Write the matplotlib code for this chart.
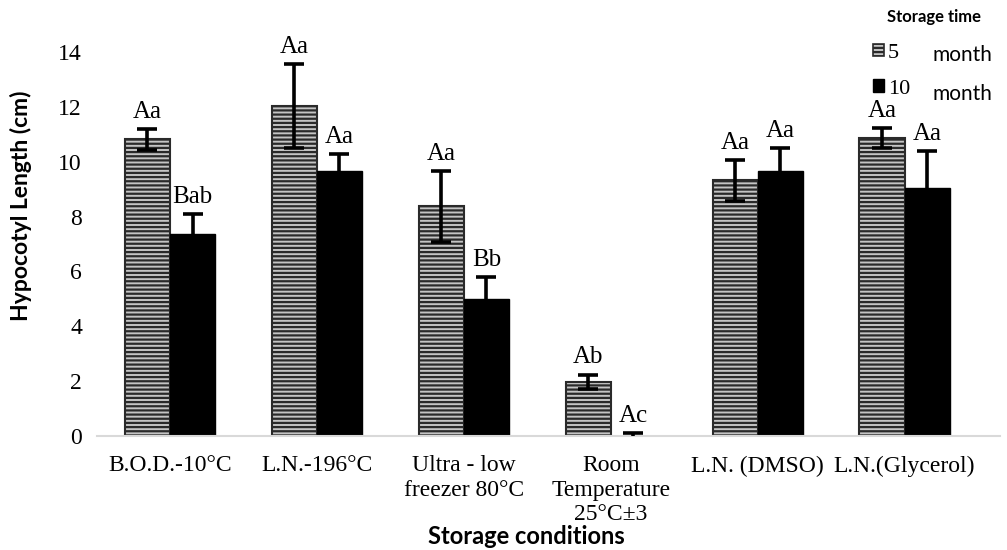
"""Hypocotyl length by storage condition and storage time."""

import matplotlib
matplotlib.use("Agg")
import matplotlib.pyplot as plt
import numpy as np
from matplotlib.patches import Patch

conditions = [
    "B.O.D.-10°C",
    "L.N.-196°C",
    "Ultra - low\nfreezer 80°C",
    "Room\nTemperature\n25°C±3",
    "L.N. (DMSO)",
    "L.N.(Glycerol)",
]
month5 = [10.82, 12.02, 8.37, 1.97, 9.32, 10.87]
month5_err = [0.38, 1.53, 1.29, 0.27, 0.74, 0.37]
month10 = [7.35, 9.65, 4.98, 0.0, 9.65, 9.05]
month10_err = [0.73, 0.62, 0.83, 0.1, 0.85, 1.35]
letters5 = ["Aa", "Aa", "Aa", "Ab", "Aa", "Aa"]
letters10 = ["Bab", "Aa", "Bb", "Ac", "Aa", "Aa"]
yticks = [0, 2, 4, 6, 8, 10, 12, 14]

SERIF = "Liberation Serif"
SANS = "Lato"

plt.rcParams["hatch.linewidth"] = 1.6

fig = plt.figure(figsize=(10.07, 5.5), dpi=100)
ax = fig.add_axes([96.6 / 1007, 114 / 550, (1000 - 96.6) / 1007, 436 / 550])

x = np.arange(len(conditions))
w = 0.307

# 5 month - striped, 10 month - solid black
ax.bar(x - w / 2, month5, w, color="#c4c4c4", edgecolor="#2a2a2a",
       hatch="----", linewidth=1.5, zorder=2)
ax.bar(x + w / 2, month10, w, color="black", edgecolor="black",
       linewidth=1.0, zorder=2)

err_kw = dict(fmt="none", ecolor="black", elinewidth=2.6, capsize=7,
              capthick=2.6, zorder=3)
ax.errorbar(x - w / 2, month5, yerr=month5_err, **err_kw)
ax.errorbar(x + w / 2, month10, yerr=month10_err, **err_kw)

# significance letters
for xi, m, e, t in zip(x - w / 2, month5, month5_err, letters5):
    ax.annotate(t, (xi, m + e), xytext=(0, 8), textcoords="offset points",
                ha="center", va="baseline", fontsize=18, family=SERIF)
for xi, m, e, t in zip(x + w / 2, month10, month10_err, letters10):
    ax.annotate(t, (xi, m + e), xytext=(0, 8), textcoords="offset points",
                ha="center", va="baseline", fontsize=18, family=SERIF)

ax.set_xlim(-0.5, 5.65)
ax.set_ylim(0, 15.9)
ax.set_yticks(yticks)
ax.set_xticks(x)
ax.set_xticklabels(conditions, fontsize=17, family=SERIF, linespacing=1.22)
for lab in ax.get_yticklabels():
    lab.set_fontsize(17)
    lab.set_family(SERIF)
ax.tick_params(axis="both", length=0)
ax.tick_params(axis="y", pad=10.5)
ax.tick_params(axis="x", pad=14)

for side in ["top", "right", "left"]:
    ax.spines[side].set_visible(False)
ax.spines["bottom"].set_color("#d9d9d9")
ax.spines["bottom"].set_linewidth(1.5)

fig.text(21 / 1007, 1 - 206 / 550, "Hypocotyl Length (cm)", rotation=90,
         ha="center", va="center", fontsize=16.5, fontweight="bold", family=SANS)
fig.text(526 / 1007, 1 - 544 / 550, "Storage conditions", ha="center",
         va="baseline", fontsize=17, fontweight="bold", family=SANS)

# legend
handles = [
    Patch(facecolor="#c4c4c4", edgecolor="#2a2a2a", hatch="----", linewidth=1.2),
    Patch(facecolor="black", edgecolor="black"),
]
fig.legend(handles, ["5", "10"], loc="upper left",
           bbox_to_anchor=(857 / 1007, 1 - 28 / 550), frameon=False,
           prop={"family": SERIF, "size": 16}, handlelength=0.5,
           handleheight=0.5, handletextpad=0.2, labelspacing=0.75,
           borderpad=0.2)
fig.text(934 / 1007, 1 - 22 / 550, "Storage time", ha="center", va="baseline",
         fontsize=12, fontweight="bold", family=SANS)
fig.text(933 / 1007, 1 - 61 / 550, "month", ha="left", va="baseline",
         fontsize=15, family=SANS)
fig.text(933 / 1007, 1 - 100 / 550, "month", ha="left", va="baseline",
         fontsize=15, family=SANS)

fig.savefig("out.png", dpi=100)
plt.close(fig)
